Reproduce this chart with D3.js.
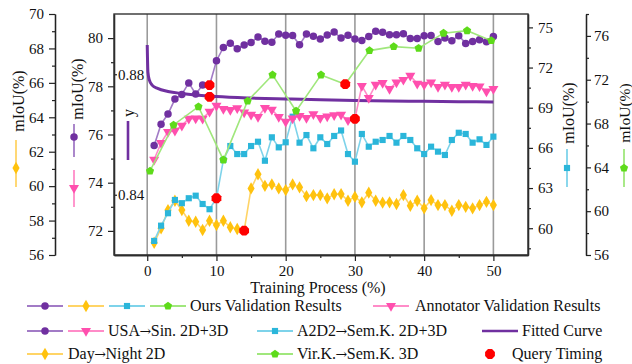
<!DOCTYPE html>
<html><head><meta charset="utf-8">
<script src="https://cdn.jsdelivr.net/npm/d3@7"></script>
<style>
body{margin:0;background:#fff}
svg{display:block}
text{font-family:"Liberation Serif","Times New Roman",serif;fill:#111}
</style>
</head><body><svg id="c" width="632" height="364"></svg>
<script>
// ---------------- data ----------------
const steps = [1,2,3,4,5,6,7,8,9,10,11,12,13,14,15,16,17,18,19,20,21,22,23,24,25,26,27,28,29,30,31,32,33,34,35,36,37,38,39,40,41,42,43,44,45,46,47,48,49,50];
const usaSin = [75.54,76.43,76.85,77.47,77.66,78.14,77.68,78.05,78.05,79.06,79.61,79.79,79.56,79.71,79.82,80.05,79.87,79.83,80.17,80.12,80.11,79.72,80.17,80.08,79.96,80.13,80.25,80.00,80.12,79.96,79.90,80.07,80.28,80.24,80.14,80.14,80.18,79.98,79.98,80.10,80.11,79.86,80.00,79.89,80.10,79.78,79.86,79.93,79.85,80.07];
const annotator = [74.96,75.65,76.11,76.16,76.37,76.66,76.67,76.66,76.95,77.20,77.06,77.02,77.09,76.92,76.82,76.73,77.10,77.03,76.73,76.53,76.67,76.77,76.69,76.84,76.69,76.75,76.80,76.82,76.59,76.65,78.02,77.52,78.07,78.14,77.89,78.16,78.27,78.44,78.11,78.07,78.16,77.97,78.07,77.97,77.97,78.07,78.02,78.00,77.79,77.89];
const dayNight = [56.71,57.55,58.61,59.15,58.61,57.99,57.93,57.45,57.99,57.74,57.99,57.61,57.51,57.41,59.87,60.69,60.02,60.10,59.87,59.77,60.10,59.93,59.42,59.48,59.48,59.29,59.53,59.54,59.15,59.38,59.06,59.62,59.15,59.04,59.06,58.96,59.48,58.86,59.15,58.71,59.19,58.90,58.90,58.57,58.90,58.80,58.71,58.90,59.09,58.90];
const a2d2 = [59.05,60.19,61.12,62.11,61.87,62.24,62.43,61.81,61.42,62.24,65.10,66.14,65.54,65.54,66.14,66.46,65.04,66.79,66.04,66.42,68.33,66.39,66.96,65.97,66.79,66.29,66.89,67.30,65.54,64.97,67.04,66.09,66.46,66.59,66.89,66.39,66.89,66.59,65.97,65.54,66.09,65.72,65.47,66.59,67.13,67.04,66.39,66.64,66.22,66.84];
const virkSteps = [0.4,3.8,7.4,11.0,14.5,18.1,21.5,25.1,28.6,32.1,35.6,39.2,42.8,46.2,49.7];
const virk = [63.67,67.87,69.54,64.68,70.06,72.44,69.15,72.44,71.59,74.66,75.02,74.88,76.25,76.48,75.57];
const fitSteps = [0,0.1,0.3,0.7,1.5,3,5,10,15,20,25,30,35,40,45,50];
const fitted = [0.8897,0.8807,0.8781,0.8764,0.8753,0.8743,0.8736,0.8726,0.8721,0.8718,0.8715,0.8713,0.8711,0.8710,0.8709,0.8708];
const querySteps = [9,9,10,14,28.6,30];
const queryAxis = ["usa","fit","a2d2","day","virk","usa"];
const queryVals = [78.05,0.8725,62.24,57.41,71.59,76.65];
const xTickVals = [0,10,20,30,40,50];
const xMinorVals = [5,15,25,35,45];
const usaTicks = [72,74,76,78,80], usaMinor = [73,75,77,79];
const dayTicks = [56,58,60,62,64,66,68,70], dayMinor = [57,59,61,63,65,67,69];
const a2Ticks = [60,63,66,69,72,75], a2Minor = [58.5,61.5,64.5,67.5,70.5,73.5];
const virTicks = [56,60,64,68,72,76], virMinor = [58,62,66,70,74,78];
const fitTicks = [0.84,0.88];

// ---------------- setup ----------------
const svg = d3.select("#c");
const L=114,R=528,T=14,B=255;
const x = d3.scaleLinear().domain([-4.8,55]).range([L,R]);
const yUsa = d3.scaleLinear().domain([71,81]).range([B,T]);
const yDay = d3.scaleLinear().domain([56,70]).range([B,T]);
const yA2 = d3.scaleLinear().domain([58,76]).range([B,T]);
const yVir = d3.scaleLinear().domain([56,78]).range([B,T]);
const yFit = d3.scaleLinear().domain([0.82,0.90]).range([B,T]);
const scaleOf = {usa:yUsa, day:yDay, a2d2:yA2, virk:yVir, fit:yFit};

const C = {
  purple:"#7030A0", purpleL:"#A27BC6",
  pink:"#FF4FAE", pinkL:"#FF8CC8",
  orange:"#FFC20E", orangeL:"#FFD466",
  cyan:"#2BB6DA", cyanL:"#7ED3EA",
  green:"#5EDB1A", greenL:"#A0E77C",
  red:"#FF0000"
};

function polyPath(n, r, rot){
  const pts=[];
  for(let i=0;i<n;i++){const a=rot+i*2*Math.PI/n;pts.push([r*Math.cos(a),r*Math.sin(a)]);}
  return "M"+pts.map(p=>p.join(",")).join("L")+"Z";
}
const sym = {
  circle: d3.symbol(d3.symbolCircle,44)(),
  tri: d3.symbol(d3.symbolTriangle,44)(),
  diamond: d3.symbol(d3.symbolDiamond,44)(),
  square: d3.symbol(d3.symbolSquare,38)(),
  penta: polyPath(5,4.3,-Math.PI/2),
  hexa: polyPath(8,5.3,Math.PI/8)
};
function marker(g, type, px, py, color){
  return g.append("path").attr("d", sym[type]).attr("fill", color)
    .attr("transform", `translate(${px},${py})` + (type==="tri"?" rotate(180)":""));
}

// ---------------- grid ----------------
svg.append("g").selectAll("line").data(xTickVals).join("line")
  .attr("x1",d=>x(d)).attr("x2",d=>x(d)).attr("y1",T).attr("y2",B)
  .attr("stroke","#9a9a9a").attr("stroke-width",1.6);

// ---------------- axes ----------------
function styleAxis(g){
  g.selectAll("path.domain").attr("stroke","#222").attr("stroke-width",1.3);
  g.selectAll(".tick line").attr("stroke","#222").attr("stroke-width",1.2);
  g.selectAll(".tick text").attr("font-family","Liberation Serif").attr("font-size",15).attr("fill","#111");
}
svg.append("g").attr("transform",`translate(0,${B})`)
  .call(d3.axisBottom(x).tickValues(xMinorVals).tickSize(3).tickFormat("").tickSizeOuter(0)).call(styleAxis);
svg.append("g").attr("transform",`translate(0,${B})`)
  .call(d3.axisBottom(x).tickValues(xTickVals).tickSize(6).tickPadding(4).tickSizeOuter(0)).call(styleAxis);
svg.append("g").attr("transform",`translate(${L},0)`)
  .call(d3.axisLeft(yUsa).tickValues(usaMinor).tickSize(3).tickFormat("").tickSizeOuter(0)).call(styleAxis);
svg.append("g").attr("transform",`translate(${L},0)`)
  .call(d3.axisLeft(yUsa).tickValues(usaTicks).tickSize(6).tickPadding(5).tickSizeOuter(0)).call(styleAxis);
const gf = svg.append("g").attr("transform",`translate(${L},0)`)
  .call(d3.axisRight(yFit).tickValues(fitTicks).tickSize(3).tickPadding(1).tickFormat(d3.format(".2f")).tickSizeOuter(0)).call(styleAxis);
gf.select("path.domain").remove();
svg.append("g").attr("transform",`translate(55,0)`)
  .call(d3.axisLeft(yDay).tickValues(dayMinor).tickSize(3).tickFormat("").tickSizeOuter(0)).call(styleAxis);
svg.append("g").attr("transform",`translate(55,0)`)
  .call(d3.axisLeft(yDay).tickValues(dayTicks).tickSize(6).tickPadding(5).tickSizeOuter(0)).call(styleAxis);
svg.append("g").attr("transform",`translate(${R},0)`)
  .call(d3.axisRight(yA2).tickValues(a2Minor).tickSize(3).tickFormat("").tickSizeOuter(0)).call(styleAxis);
svg.append("g").attr("transform",`translate(${R},0)`)
  .call(d3.axisRight(yA2).tickValues(a2Ticks).tickSize(5).tickPadding(5).tickSizeOuter(0)).call(styleAxis);
svg.append("g").attr("transform",`translate(586,0)`)
  .call(d3.axisRight(yVir).tickValues(virMinor).tickSize(3).tickFormat("").tickSizeOuter(0)).call(styleAxis);
svg.append("g").attr("transform",`translate(586,0)`)
  .call(d3.axisRight(yVir).tickValues(virTicks).tickSize(5).tickPadding(3).tickSizeOuter(0)).call(styleAxis);

svg.append("rect").attr("x",L).attr("y",T).attr("width",R-L).attr("height",B-T)
  .attr("fill","none").attr("stroke","#333").attr("stroke-width",1.4);

// ---------------- series ----------------
const plot = svg.append("g");
function series(xs, ys, yS, lineColor, markColor, type, skip){
  const pts = xs.map((d,i)=>[x(d), yS(ys[i])]);
  plot.append("path").attr("d", d3.line()(pts)).attr("fill","none")
    .attr("stroke",lineColor).attr("stroke-width",1.6);
  const g = plot.append("g");
  pts.forEach((p,i)=>{ if(!(skip && skip.includes(xs[i]))) marker(g,type,p[0],p[1],markColor); });
}
plot.append("path")
  .attr("d", d3.line().x((d,i)=>x(fitSteps[i])).y(d=>yFit(d)).curve(d3.curveMonotoneX)(fitted))
  .attr("fill","none").attr("stroke",C.purple).attr("stroke-width",3);
series(steps, dayNight, yDay, C.orangeL, C.orange, "diamond", [14]);
series(steps, a2d2, yA2, C.cyanL, C.cyan, "square", [10]);
series(steps, annotator, yUsa, C.pinkL, C.pink, "tri", [30]);
series(steps, usaSin, yUsa, C.purpleL, C.purple, "circle", [9]);
series(virkSteps, virk, yVir, C.greenL, C.green, "penta", [28.6]);
const gq = plot.append("g");
querySteps.forEach((s,i)=> marker(gq,"hexa",x(s),scaleOf[queryAxis[i]](queryVals[i]),C.red));

// ---------------- axis titles ----------------
function vLabel(cx, cy, txt, fs){
  svg.append("text").attr("transform",`translate(${cx},${cy}) rotate(-90)`)
    .attr("text-anchor","middle").attr("dominant-baseline","central")
    .attr("font-size",fs||16).text(txt);
}
function vSwatch(cx, y1, y2, ym, lineColor, markColor, type, w){
  svg.append("line").attr("x1",cx).attr("x2",cx).attr("y1",y1).attr("y2",y2)
    .attr("stroke",lineColor).attr("stroke-width",w||1.8);
  if(type) marker(svg,type,cx,ym,markColor);
}
vLabel(18,101,"mIoU(%)");
vSwatch(16,140,187,168,C.orangeL,C.orange,"diamond");
vLabel(77,89,"mIoU(%)");
vSwatch(74,124,157,137,C.purpleL,C.purple,"circle");
vSwatch(74,170,207,188,C.pinkL,C.pink,"tri");
vLabel(568,113,"mIoU(%)");
vSwatch(567,149,187,168,C.cyanL,C.cyan,"square");
vLabel(624,113,"mIoU(%)",15.5);
vSwatch(624,149,187,168,C.greenL,C.green,"penta");
svg.append("text").attr("transform","translate(128,113) rotate(-90)")
  .attr("text-anchor","middle").attr("dominant-baseline","central").attr("font-size",16).text("y");
vSwatch(128,121,160,null,C.purple,null,null,2.6);

svg.append("text").attr("x",(L+R)/2-3).attr("y",293).attr("text-anchor","middle")
  .attr("font-size",16).text("Training Process (%)");

// ---------------- legend ----------------
const lg = svg.append("g");
function hSwatch(x1, y, lineColor, markColor, type, w){
  lg.append("line").attr("x1",x1).attr("x2",x1+36).attr("y1",y).attr("y2",y)
    .attr("stroke",lineColor).attr("stroke-width",w||1.8);
  if(type) marker(lg,type,x1+18,y,markColor);
}
function lText(xp, y, parts){
  const t = lg.append("text").attr("x",xp).attr("y",y+5).attr("font-size",16);
  parts.forEach((p,i)=>{
    if(i>0){ t.append("tspan").attr("font-family","DejaVu Serif").attr("font-size",14).attr("dx",-0.5).text("\u2192"); t.append("tspan").attr("dx",-0.5).text(p); }
    else t.append("tspan").text(p);
  });
}
const r1=306, r2=331, r3=354;
hSwatch(27,r1,C.purpleL,C.purple,"circle");
hSwatch(68,r1,C.orangeL,C.orange,"diamond");
hSwatch(109,r1,C.cyanL,C.cyan,"square");
hSwatch(150,r1,C.greenL,C.green,"penta");
lText(190,r1,["Ours Validation Results"]);
hSwatch(373,r1,C.pinkL,C.pink,"tri");
lText(415,r1,["Annotator Validation Results"]);
hSwatch(27,r2,C.purpleL,C.purple,"circle");
hSwatch(68,r2,C.pinkL,C.pink,"tri");
lText(108,r2,["USA","Sin. 2D+3D"]);
hSwatch(257,r2,C.cyanL,C.cyan,"square");
lText(297,r2,["A2D2","Sem.K. 2D+3D"]);
hSwatch(482,r2,C.purple,null,null,2.6);
lText(522,r2,["Fitted Curve"]);
hSwatch(27,r3,C.orangeL,C.orange,"diamond");
lText(68,r3,["Day","Night 2D"]);
hSwatch(257,r3,C.greenL,C.green,"penta");
lText(297,r3,["Vir.K.","Sem.K. 3D"]);
marker(lg,"hexa",490,r3,C.red);
lText(512,r3,["Query Timing"]);
</script></body></html>
